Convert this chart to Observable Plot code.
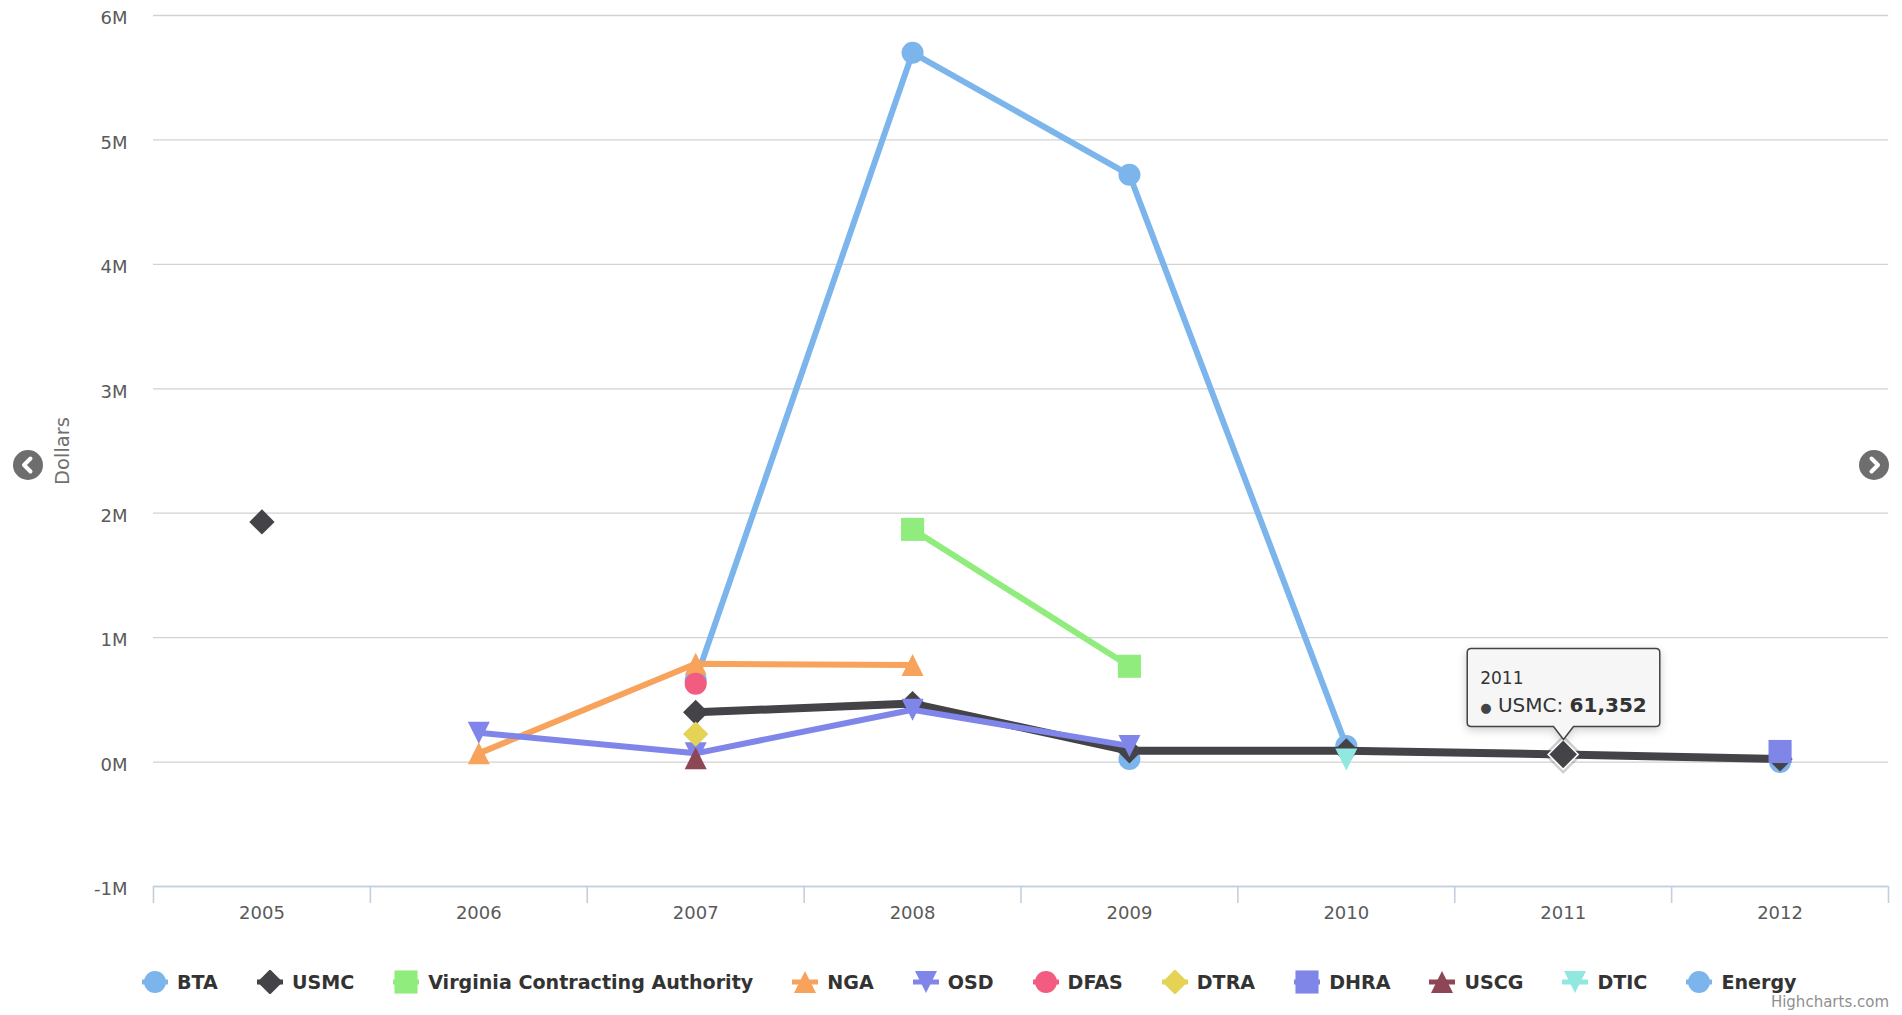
<!DOCTYPE html>
<html>
<head>
<meta charset="utf-8">
<script src="https://cdn.jsdelivr.net/npm/d3@7"></script>
<script src="https://cdn.jsdelivr.net/npm/@observablehq/plot@0.6"></script>
<style>
  html, body { margin: 0; padding: 0; background: #fff; }
  #wrap { position: relative; width: 1902px; height: 1015px; overflow: hidden; font-family: "DejaVu Sans", sans-serif; }
  #chart svg { display: block; }
  #legend { position: absolute; left: 142px; top: 970px; display: flex; align-items: center; white-space: nowrap; }
  .item { display: flex; align-items: center; margin-right: 39px; font-weight: bold; font-size: 19.1px; color: #333; }
  .item svg { margin-right: 9px; display: block; }
  #credit { position: absolute; right: 13px; top: 993px; font-size: 15px; color: #909090; }
  .nav { position: absolute; display: block; }
</style>
</head>
<body>
<div id="wrap">
  <div id="chart"></div>
  <div id="legend"></div>
  <div id="credit">Highcharts.com</div>
  <svg class="nav" style="left:12px;top:449px" width="32" height="32" viewBox="0 0 32 32">
    <circle cx="16" cy="16" r="15" fill="#6e6e6e"/>
    <path d="M18.5 9.5 L12 16 L18.5 22.5" fill="none" stroke="#fff" stroke-width="4" stroke-linecap="round" stroke-linejoin="round"/>
  </svg>
  <svg class="nav" style="left:1858px;top:449px" width="32" height="32" viewBox="0 0 32 32">
    <circle cx="16" cy="16" r="15" fill="#6e6e6e"/>
    <path d="M13.5 9.5 L20 16 L13.5 22.5" fill="none" stroke="#fff" stroke-width="4" stroke-linecap="round" stroke-linejoin="round"/>
  </svg>
</div>
<script>
// Fiscal years on the category axis
const years = [2005, 2006, 2007, 2008, 2009, 2010, 2011, 2012];

// Obligations per agency, in dollars (null = no award that year)
const BTA    = [null,    null,   660000, 5700000, 4720000, 130000, null,  null];
const USMC   = [1930000, null,   400000, 470000,  90000,   90000,  61352, 25000];
const VCA    = [null,    null,   null,   1870000, 770000,  null,   null,  null];
const NGA    = [null,    70000,  790000, 780000,  null,    null,   null,  null];
const OSD    = [null,    235000, 70000,  420000,  130000,  null,   null,  null];
const DFAS   = [null,    null,   630000, null,    null,    null,   null,  null];
const DTRA   = [null,    null,   225000, null,    null,    null,   null,  null];
const DHRA   = [null,    null,   null,   null,    null,    null,   null,  85000];
const USCG   = [null,    null,   30000,  null,    null,    null,   null,  null];
const DTIC   = [null,    null,   null,   null,    null,    20000,  null,  null];
const Energy = [null,    null,   null,   null,    25000,   null,   null,  0];

const seriesNames   = ["BTA", "USMC", "Virginia Contracting Authority", "NGA", "OSD", "DFAS", "DTRA", "DHRA", "USCG", "DTIC", "Energy"];
const seriesValues  = [BTA, USMC, VCA, NGA, OSD, DFAS, DTRA, DHRA, USCG, DTIC, Energy];
const seriesColors  = ["#7cb5ec", "#434348", "#90ed7d", "#f7a35c", "#8085e9", "#f15c80", "#e4d354", "#8085e8", "#8d4653", "#91e8e1", "#7cb5ec"];
const seriesSymbols = ["circle", "diamond", "square", "triangle", "triangle-down", "circle", "diamond", "square", "triangle", "triangle-down", "circle"];

// Value axis ticks and their labels
const yTicks      = [-1000000, 0, 1000000, 2000000, 3000000, 4000000, 5000000, 6000000];
const yTickLabels = ["-1M", "0M", "1M", "2M", "3M", "4M", "5M", "6M"];

// Highlighted point shown in the tooltip
const hoverSeries = 1;
const hoverYear = 2011;

// Marker shapes in the Highcharts style (bounding box of 2r)
function markerSymbol(kind) {
  return {
    draw(ctx, size) {
      const r = Math.sqrt(size / Math.PI);
      if (kind === "circle") {
        ctx.moveTo(r, 0); ctx.arc(0, 0, r, 0, 2 * Math.PI);
      } else if (kind === "square") {
        const s = r * 1.05; ctx.rect(-s, -s, 2 * s, 2 * s);
      } else if (kind === "diamond") {
        const s = r * 1.15; ctx.moveTo(0, -s); ctx.lineTo(s, 0); ctx.lineTo(0, s); ctx.lineTo(-s, 0);
      } else if (kind === "triangle") {
        ctx.moveTo(0, -r); ctx.lineTo(r, r); ctx.lineTo(-r, r);
      } else {
        ctx.moveTo(-r, -r); ctx.lineTo(r, -r); ctx.lineTo(0, r);
      }
      ctx.closePath();
    }
  };
}

const R = 11;
const boundaries = [...years.map(y => y - 0.5), years[years.length - 1] + 0.5];
const yLabel = new Map(yTicks.map((t, i) => [t, yTickLabels[i]]));
const fmt = d3.format(",");

const rowsOf = (vals) => years.map((year, i) => ({year, value: vals[i]}));

// Energy markers sit underneath the others, then each series: line + markers
const drawOrder = [10, 0, 1, 2, 3, 4, 5, 6, 7, 8, 9];
const seriesMarks = drawOrder.flatMap((s) => {
  const rows = rowsOf(seriesValues[s]);
  const pts = rows.filter(d => d.value != null);
  const hovered = s === hoverSeries;
  return [
    Plot.line(rows, {x: "year", y: "value", stroke: seriesColors[s], strokeWidth: hovered ? 8 : 6, strokeLinejoin: "round", strokeLinecap: "round"}),
    Plot.dot(pts, {x: "year", y: "value", r: R, symbol: markerSymbol(seriesSymbols[s]), fill: seriesColors[s], stroke: "none"})
  ];
});

const hoverIndex = years.indexOf(hoverYear);
const hoverPoint = [{year: hoverYear, value: seriesValues[hoverSeries][hoverIndex]}];

const chart = Plot.plot({
  width: 1902,
  height: 940,
  marginLeft: 153,
  marginRight: 14,
  marginTop: 15,
  marginBottom: 54,
  style: {fontFamily: "DejaVu Sans, sans-serif", background: "#fff", overflow: "visible"},
  x: {type: "linear", domain: [boundaries[0], boundaries[boundaries.length - 1]]},
  y: {domain: [yTicks[0], yTicks[yTicks.length - 1]]},
  marks: [
    Plot.gridY(yTicks, {stroke: "#d2d2d2", strokeOpacity: 1, strokeWidth: 1.3}),
    Plot.ruleY([yTicks[0]], {stroke: "#c0d0e0", strokeWidth: 1.6}),
    Plot.axisX(boundaries, {tickSize: 17, stroke: "#c0d0e0", strokeWidth: 1.6, tickFormat: () => "", label: null}),
    Plot.axisX(years, {tickSize: 0, tickPadding: 20, tickFormat: d => String(d), fontSize: 18, fill: "#5a5a5a", label: null}),
    Plot.axisY(yTicks, {tickSize: 0, tickPadding: 26, tickFormat: d => yLabel.get(d), fontSize: 18, fill: "#5a5a5a", dy: 3, label: null}),
    Plot.text(["Dollars"], {frameAnchor: "left", textAnchor: "middle", dx: -91, rotate: -90, fontSize: 19.5, fill: "#707070"}),
    ...seriesMarks,
    // hover halo and enlarged marker on the highlighted point
    Plot.dot(hoverPoint, {x: "year", y: "value", r: 17, symbol: markerSymbol(seriesSymbols[hoverSeries]), fill: seriesColors[hoverSeries], fillOpacity: 0.25}),
    Plot.dot(hoverPoint, {x: "year", y: "value", r: 13, symbol: markerSymbol(seriesSymbols[hoverSeries]), fill: seriesColors[hoverSeries], stroke: "#fff", strokeWidth: 1.6}),
    Plot.tip(hoverPoint, {
      x: "year", y: "value",
      title: d => `${d.year}\n${seriesNames[hoverSeries]}: ${fmt(d.value)}`,
      anchor: "bottom", pointerSize: 12,
      fontSize: 20, fontFamily: "DejaVu Sans, sans-serif", lineHeight: 1.35, textPadding: 13,
      fill: "#f9f9f9", fillOpacity: 0.92, stroke: seriesColors[hoverSeries], strokeWidth: 1.5
    })
  ]
});

// Tooltip text styling: smaller header, colored bullet, bold value
const ns = "http://www.w3.org/2000/svg";
chart.querySelectorAll('g[aria-label="tip"] text').forEach((text) => {
  text.setAttribute("fill", "#333333");
  const lines = text.querySelectorAll(":scope > tspan");
  if (lines.length < 2) return;
  lines[0].setAttribute("font-size", "17");
  const line = lines[1];
  const d = hoverPoint[0];
  while (line.firstChild) line.removeChild(line.firstChild);
  const bullet = document.createElementNS(ns, "tspan");
  bullet.setAttribute("fill", seriesColors[hoverSeries]);
  bullet.setAttribute("font-size", "13");
  bullet.textContent = "\u25CF";
  line.appendChild(bullet);
  line.appendChild(document.createTextNode(` ${seriesNames[hoverSeries]}: `));
  const val = document.createElementNS(ns, "tspan");
  val.setAttribute("font-weight", "bold");
  val.textContent = fmt(d.value);
  line.appendChild(val);
});

document.getElementById("chart").appendChild(chart);

// Callout shape: rounded box above the point with a pointer at its bottom centre.
// Runs after the tip has laid itself out, offsets are relative to the point.
requestAnimationFrame(() => {
  const gap = 15, pointer = 13, half = 10, pad = 13, corner = 4;
  const bottom = -(gap + pointer);
  const base2 = bottom - 15, base1 = base2 - 28, top = base1 - 35;
  chart.querySelectorAll('g[aria-label="tip"] > g').forEach((g) => {
    const text = g.querySelector("text"), path = g.querySelector("path");
    if (!text || !path) return;
    const lines = text.querySelectorAll(":scope > tspan");
    text.removeAttribute("transform");
    text.setAttribute("y", 0);
    lines.forEach((t, i) => { t.setAttribute("dy", 0); t.setAttribute("y", i === 0 ? base1 : base2); t.setAttribute("x", 0); });
    const w = text.getBBox().width + 2 * pad;
    const x0 = -w / 2, x1 = w / 2;
    lines.forEach((t) => t.setAttribute("x", x0 + pad));
    path.setAttribute("d",
      `M${x0 + corner},${top}H${x1 - corner}Q${x1},${top} ${x1},${top + corner}` +
      `V${bottom - corner}Q${x1},${bottom} ${x1 - corner},${bottom}` +
      `H${half}L0,${-gap}L${-half},${bottom}` +
      `H${x0 + corner}Q${x0},${bottom} ${x0},${bottom - corner}` +
      `V${top + corner}Q${x0},${top} ${x0 + corner},${top}Z`);
  });
});

// Legend: line segment with marker, then series name
const legend = d3.select("#legend");
seriesNames.forEach((name, s) => {
  const item = legend.append("div").attr("class", "item");
  const svg = item.append("svg").attr("width", 26).attr("height", 24);
  svg.append("line").attr("x1", 0).attr("x2", 26).attr("y1", 12).attr("y2", 12)
    .attr("stroke", seriesColors[s]).attr("stroke-width", 5);
  svg.append("path").attr("transform", "translate(13,12)")
    .attr("d", d3.symbol(markerSymbol(seriesSymbols[s]), Math.PI * R * R)())
    .attr("fill", seriesColors[s]);
  item.append("span").text(name);
});
</script>
</body>
</html>
